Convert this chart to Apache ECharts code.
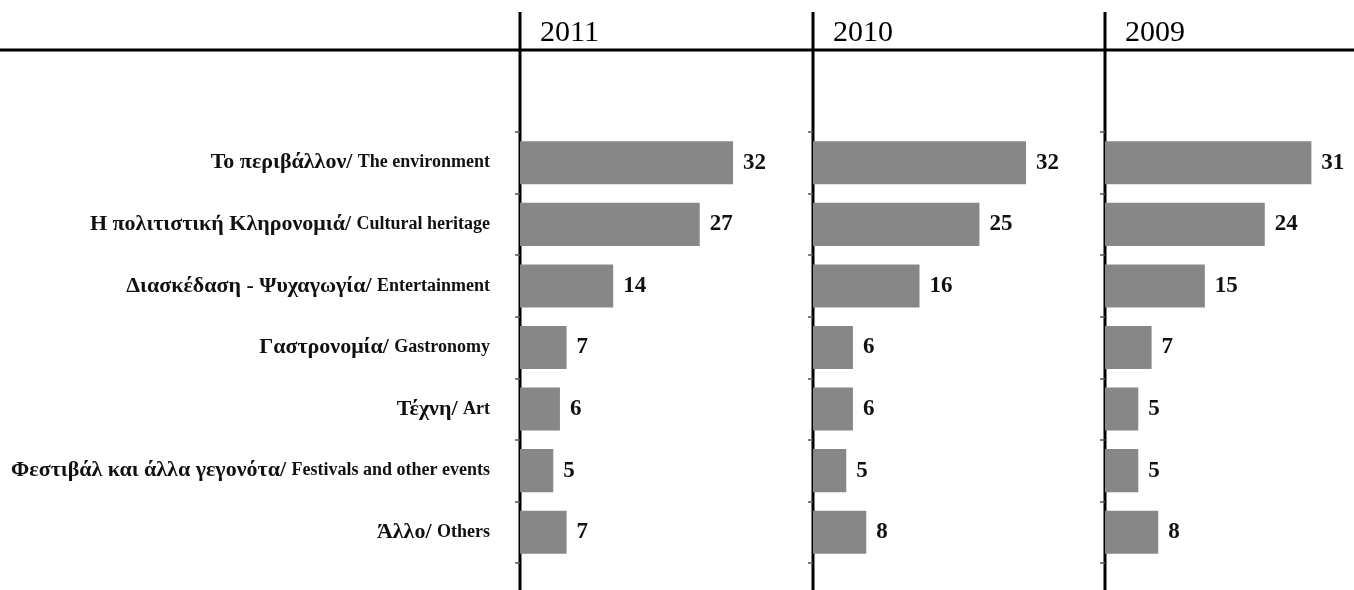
<!DOCTYPE html>
<html>
<head>
<meta charset="utf-8">
<style>
  html, body { margin: 0; padding: 0; background: #fff; }
  #chart { width: 1354px; height: 590px; }
</style>
<script src="https://cdn.jsdelivr.net/npm/echarts@6/dist/echarts.min.js"></script>
</head>
<body>
<div id="chart"></div>
<script>
// categories (Greek / English)
var greekLabels = ['Το περιβάλλον', 'Η πολιτιστική Κληρονομιά', 'Διασκέδαση - Ψυχαγωγία', 'Γαστρονομία', 'Τέχνη', 'Φεστιβάλ και άλλα γεγονότα', 'Άλλο'];
var englishLabels = ['The environment', 'Cultural heritage', 'Entertainment', 'Gastronomy', 'Art', 'Festivals and other events', 'Others'];
var years = ['2011', '2010', '2009'];
var values2011 = [32, 27, 14, 7, 6, 5, 7];
var values2010 = [32, 25, 16, 6, 6, 5, 8];
var values2009 = [31, 24, 15, 7, 5, 5, 8];
var allValues = [values2011, values2010, values2009];

var panelLeft = [520, 813, 1105];
var serif = '"Liberation Serif", "DejaVu Serif", serif';

var chart = echarts.init(document.getElementById('chart'));

var categories = greekLabels.map(function (g, i) { return g + '|' + englishLabels[i]; });

var grids = [], xAxes = [], yAxes = [], series = [], titles = [], graphics = [];

panelLeft.forEach(function (left, i) {
    grids.push({ left: left, top: 132, width: 233, height: 431 });
    xAxes.push({
        gridIndex: i, type: 'value', min: 0, max: 35, show: false
    });
    yAxes.push({
        gridIndex: i, type: 'category', inverse: true, data: categories,
        axisLine: { show: false },
        axisTick: { show: true, length: 5, lineStyle: { color: '#555', width: 1.5 } },
        axisLabel: {
            show: i === 0,
            margin: 30,
            formatter: function (v) {
                var p = v.split('|');
                return '{g|' + p[0] + '/ }{e|' + p[1] + '}';
            },
            rich: {
                g: { fontFamily: serif, fontWeight: 'bold', fontSize: 22, color: '#111' },
                e: { fontFamily: serif, fontWeight: 'bold', fontSize: 18, color: '#111' }
            }
        }
    });
    series.push({
        type: 'bar', xAxisIndex: i, yAxisIndex: i,
        data: allValues[i],
        barCategoryGap: '30%',
        itemStyle: { color: '#878787' },
        label: {
            show: true, position: 'right', distance: 10,
            fontFamily: serif, fontWeight: 'bold', fontSize: 23, color: '#111'
        }
    });
    titles.push({
        text: years[i], left: left + 15, top: 13,
        textStyle: { fontFamily: serif, fontWeight: 'normal', fontSize: 30, color: '#000' }
    });
    // long vertical axis line for each panel
    graphics.push({
        type: 'line', shape: { x1: left, y1: 12, x2: left, y2: 590 },
        style: { stroke: '#000', lineWidth: 3 }
    });
});

// top rule
graphics.push({
    type: 'line', shape: { x1: 0, y1: 50, x2: 1354, y2: 50 },
    style: { stroke: '#000', lineWidth: 3 }
});

chart.setOption({
    animation: false,
    backgroundColor: '#fff',
    title: titles,
    grid: grids,
    xAxis: xAxes,
    yAxis: yAxes,
    series: series,
    graphic: graphics
});
</script>
</body>
</html>
